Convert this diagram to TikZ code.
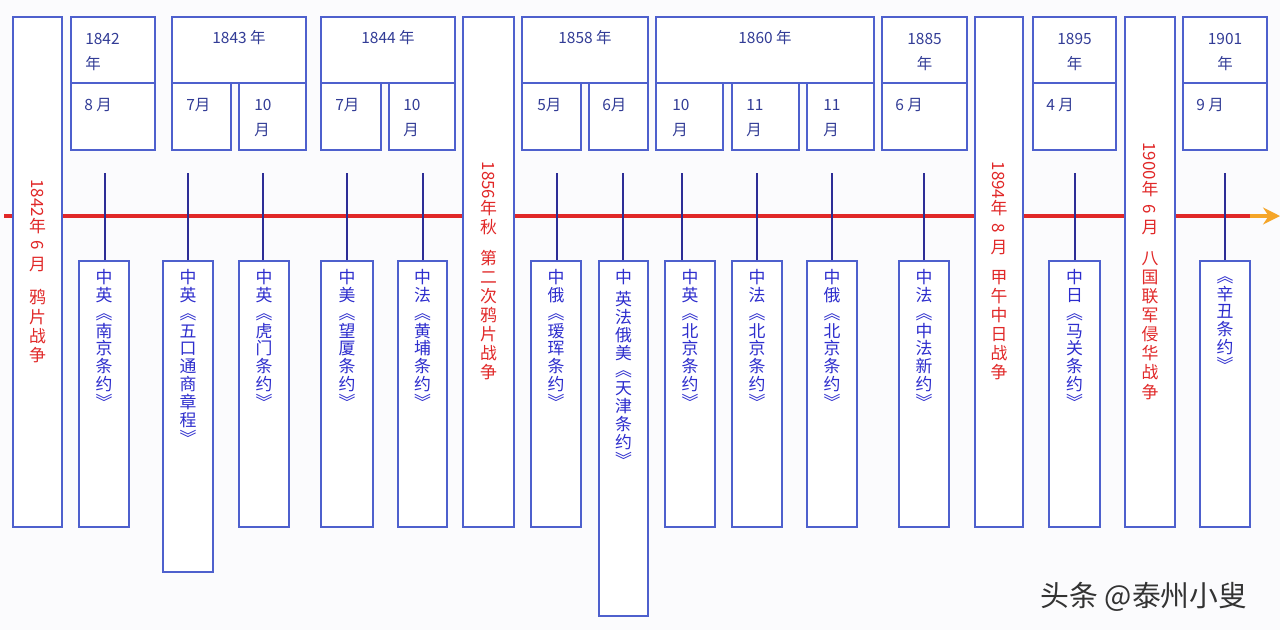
\documentclass[tikz,border=0pt]{standalone}
\usepackage{fontspec}
\setmainfont{Noto Sans CJK SC}
\usepackage{graphicx}
\usepackage{tikz}
\usetikzlibrary{arrows.meta,positioning,fit}
\definecolor{boxblue}{RGB}{78,96,205}
\definecolor{ticknavy}{RGB}{45,45,150}
\definecolor{inkblue}{RGB}{45,45,205}
\definecolor{labelblue}{RGB}{50,60,150}
\definecolor{warred}{RGB}{225,40,40}
\definecolor{lineorange}{RGB}{245,165,40}
\definecolor{paper}{RGB}{251,251,253}
\tikzstyle{boxframe}=[rectangle, draw=boxblue, line width=1.1pt, fill=white,
  inner sep=0pt]
\tikzstyle{yearlbl}=[font=\fontsize{11pt}{17.8pt}\selectfont, text=labelblue,
  inner sep=0pt, align=left]
\tikzstyle{treaty}=[font=\fontsize{12pt}{12.7pt}\selectfont, text=inkblue,
  inner sep=0pt, align=center, anchor=north]
\tikzstyle{warlbl}=[font=\fontsize{12pt}{13.6pt}\selectfont, text=warred,
  inner sep=0pt, align=center]
\tikzstyle{tickline}=[draw=ticknavy, line width=1.4pt]
\tikzstyle{timeline}=[draw=warred, line width=2.6pt]
\tikzstyle{arrowline}=[-{Stealth[length=12pt,width=12pt]}, draw=lineorange,
  fill=lineorange, line width=2.6pt]
\newcommand{\sideways}[1]{\rotatebox[origin=c]{-90}{#1}}

\begin{document}
\begin{tikzpicture}[x=0.25mm, y=-0.25mm]

    \fill[paper] (0,0) rectangle (1280,630);
    \useasboundingbox (0,0) rectangle (1280,630);

    % Timeline, left to right
    \coordinate (lineL) at (4,216);
    \coordinate (lineR) at (1262,216);
    \coordinate (arrowS) at (1250,216);
    \coordinate (arrowE) at (1280,216);
    \draw[timeline] (lineL) -- (lineR);
    \draw[arrowline] (arrowS) -- (arrowE);

    % Wars: tall red boxes across the timeline
    \node[boxframe, fit={(13,17) (62,527)}] (r1) {};
    \node[boxframe, fit={(463,17) (514,527)}] (r2) {};
    \node[boxframe, fit={(975,17) (1023,527)}] (r3) {};
    \node[boxframe, fit={(1125,17) (1175,527)}] (r4) {};
    \node[warlbl] (w1) at (37.5,271)
      {\sideways{1842}\\年\\\sideways{6}\\月\\[10pt]鸦\\片\\战\\争};
    \node[warlbl] (w2) at (488.5,271)
      {\sideways{1856}\\年\\秋\\[8pt]第\\二\\次\\鸦\\片\\战\\争};
    \node[warlbl] (w3) at (999,271)
      {\sideways{1894}\\年\\\sideways{8}\\月\\[8pt]甲\\午\\中\\日\\战\\争};
    \node[warlbl] (w4) at (1150,271)
      {\sideways{1900}\\年\\\sideways{6}\\月\\[8pt]八\\国\\联\\军\\侵\\华\\战\\争};

    % Row 1: year headers
    \node[boxframe, fit={(71,17) (155,83)}] (h42) {};
    \node[boxframe, fit={(172,17) (306,83)}] (h43) {};
    \node[boxframe, fit={(321,17) (455,83)}] (h44) {};
    \node[boxframe, fit={(522,17) (648,83)}] (h58) {};
    \node[boxframe, fit={(656,17) (874,83)}] (h60) {};
    \node[boxframe, fit={(882,17) (967,83)}] (h85) {};
    \node[boxframe, fit={(1033,17) (1116,83)}] (h95) {};
    \node[boxframe, fit={(1183,17) (1267,83)}] (h01) {};
    \node[yearlbl, anchor=north west] (y42) at (85,33) {1842\\年};
    \node[yearlbl] (y43) at (239,38) {1843 年};
    \node[yearlbl] (y44) at (388,38) {1844 年};
    \node[yearlbl] (y58) at (585,38) {1858 年};
    \node[yearlbl] (y60) at (765,38) {1860 年};
    \node[yearlbl, align=center, anchor=north] (y85) at (924.5,33) {1885\\年};
    \node[yearlbl, align=center, anchor=north] (y95) at (1074.5,33) {1895\\年};
    \node[yearlbl, align=center, anchor=north] (y01) at (1225,33) {1901\\年};

    % Row 2: months under each year
    \node[boxframe, fit={(71,83) (155,150)}] (m42) {};
    \node[boxframe, fit={(172,83) (231,150)}] (m43a) {};
    \node[boxframe, fit={(239,83) (306,150)}] (m43b) {};
    \node[boxframe, fit={(321,83) (381,150)}] (m44a) {};
    \node[boxframe, fit={(389,83) (455,150)}] (m44b) {};
    \node[boxframe, fit={(522,83) (581,150)}] (m58a) {};
    \node[boxframe, fit={(589,83) (648,150)}] (m58b) {};
    \node[boxframe, fit={(656,83) (723,150)}] (m60a) {};
    \node[boxframe, fit={(732,83) (799,150)}] (m60b) {};
    \node[boxframe, fit={(807,83) (874,150)}] (m60c) {};
    \node[boxframe, fit={(882,83) (967,150)}] (m85) {};
    \node[boxframe, fit={(1033,83) (1116,150)}] (m95) {};
    \node[boxframe, fit={(1183,83) (1267,150)}] (m01) {};
    \node[yearlbl, anchor=north west] (n42) at (84,98) {8 月};
    \node[yearlbl, anchor=north west] (n43a) at (186,98) {7月};
    \node[yearlbl, anchor=north west] (n43b) at (254,99) {10\\月};
    \node[yearlbl, anchor=north west] (n44a) at (335,98) {7月};
    \node[yearlbl, anchor=north west] (n44b) at (403,99) {10\\月};
    \node[yearlbl, anchor=north west] (n58a) at (537,98) {5月};
    \node[yearlbl, anchor=north west] (n58b) at (602,98) {6月};
    \node[yearlbl, anchor=north west] (n60a) at (672,99) {10\\月};
    \node[yearlbl, anchor=north west] (n60b) at (746,99) {11\\月};
    \node[yearlbl, anchor=north west] (n60c) at (823,99) {11\\月};
    \node[yearlbl, anchor=north west] (n85) at (895,98) {6 月};
    \node[yearlbl, anchor=north west] (n95) at (1046,98) {4 月};
    \node[yearlbl, anchor=north west] (n01) at (1196,98) {9 月};

    % Row 3: treaties below the timeline
    \node[boxframe, fit={(79,261) (129,527)}] (t1) {};
    \node[boxframe, fit={(163,261) (213,572)}] (t2) {};
    \node[boxframe, fit={(239,261) (289,527)}] (t3) {};
    \node[boxframe, fit={(321,261) (373,527)}] (t4) {};
    \node[boxframe, fit={(398,261) (447,527)}] (t5) {};
    \node[boxframe, fit={(531,261) (581,527)}] (t6) {};
    \node[boxframe, fit={(599,261) (648,616)}] (t7) {};
    \node[boxframe, fit={(665,261) (715,527)}] (t8) {};
    \node[boxframe, fit={(732,261) (782,527)}] (t9) {};
    \node[boxframe, fit={(807,261) (857,527)}] (t10) {};
    \node[boxframe, fit={(899,261) (949,527)}] (t11) {};
    \node[boxframe, fit={(1049,261) (1100,527)}] (t12) {};
    \node[boxframe, fit={(1200,261) (1250,527)}] (t13) {};
    \node[treaty] (s1) at (104,269) {中\\英\\︽\\南\\京\\条\\约\\︾};
    \node[treaty] (s2) at (188,269) {中\\英\\︽\\五\\口\\通\\商\\章\\程\\︾};
    \node[treaty] (s3) at (264,269) {中\\英\\︽\\虎\\门\\条\\约\\︾};
    \node[treaty] (s4) at (347,269) {中\\美\\︽\\望\\厦\\条\\约\\︾};
    \node[treaty] (s5) at (422.5,269) {中\\法\\︽\\黄\\埔\\条\\约\\︾};
    \node[treaty] (s6) at (556,269) {中\\俄\\︽\\瑷\\珲\\条\\约\\︾};
    \node[treaty] (s7) at (623.5,269) {中\\[3pt]英\\法\\俄\\美\\︽\\天\\津\\条\\约\\︾};
    \node[treaty] (s8) at (690,269) {中\\英\\︽\\北\\京\\条\\约\\︾};
    \node[treaty] (s9) at (757,269) {中\\法\\︽\\北\\京\\条\\约\\︾};
    \node[treaty] (s10) at (832,269) {中\\俄\\︽\\北\\京\\条\\约\\︾};
    \node[treaty] (s11) at (924,269) {中\\法\\︽\\中\\法\\新\\约\\︾};
    \node[treaty] (s12) at (1074.5,269) {中\\日\\︽\\马\\关\\条\\约\\︾};
    \node[treaty] (s13) at (1225,276) {︽\\辛\\丑\\条\\约\\︾};

    % Ticks from above the timeline down to each treaty
    \foreach \x/\t in {105/t1, 188/t2, 263/t3, 347/t4, 423/t5, 557/t6, 623/t7,
      682/t8, 757/t9, 832/t10, 924/t11, 1075/t12, 1225/t13} {
      \coordinate (k\t) at (\x,173);
      \draw[tickline] (k\t) -- (k\t |- \t.north);
    }

    \node[font=\fontsize{20.5pt}{20.5pt}\selectfont, text=black!80] (mark) at (1144,597)
      {头条 @泰州小叟};

  \end{tikzpicture}
\end{document}
